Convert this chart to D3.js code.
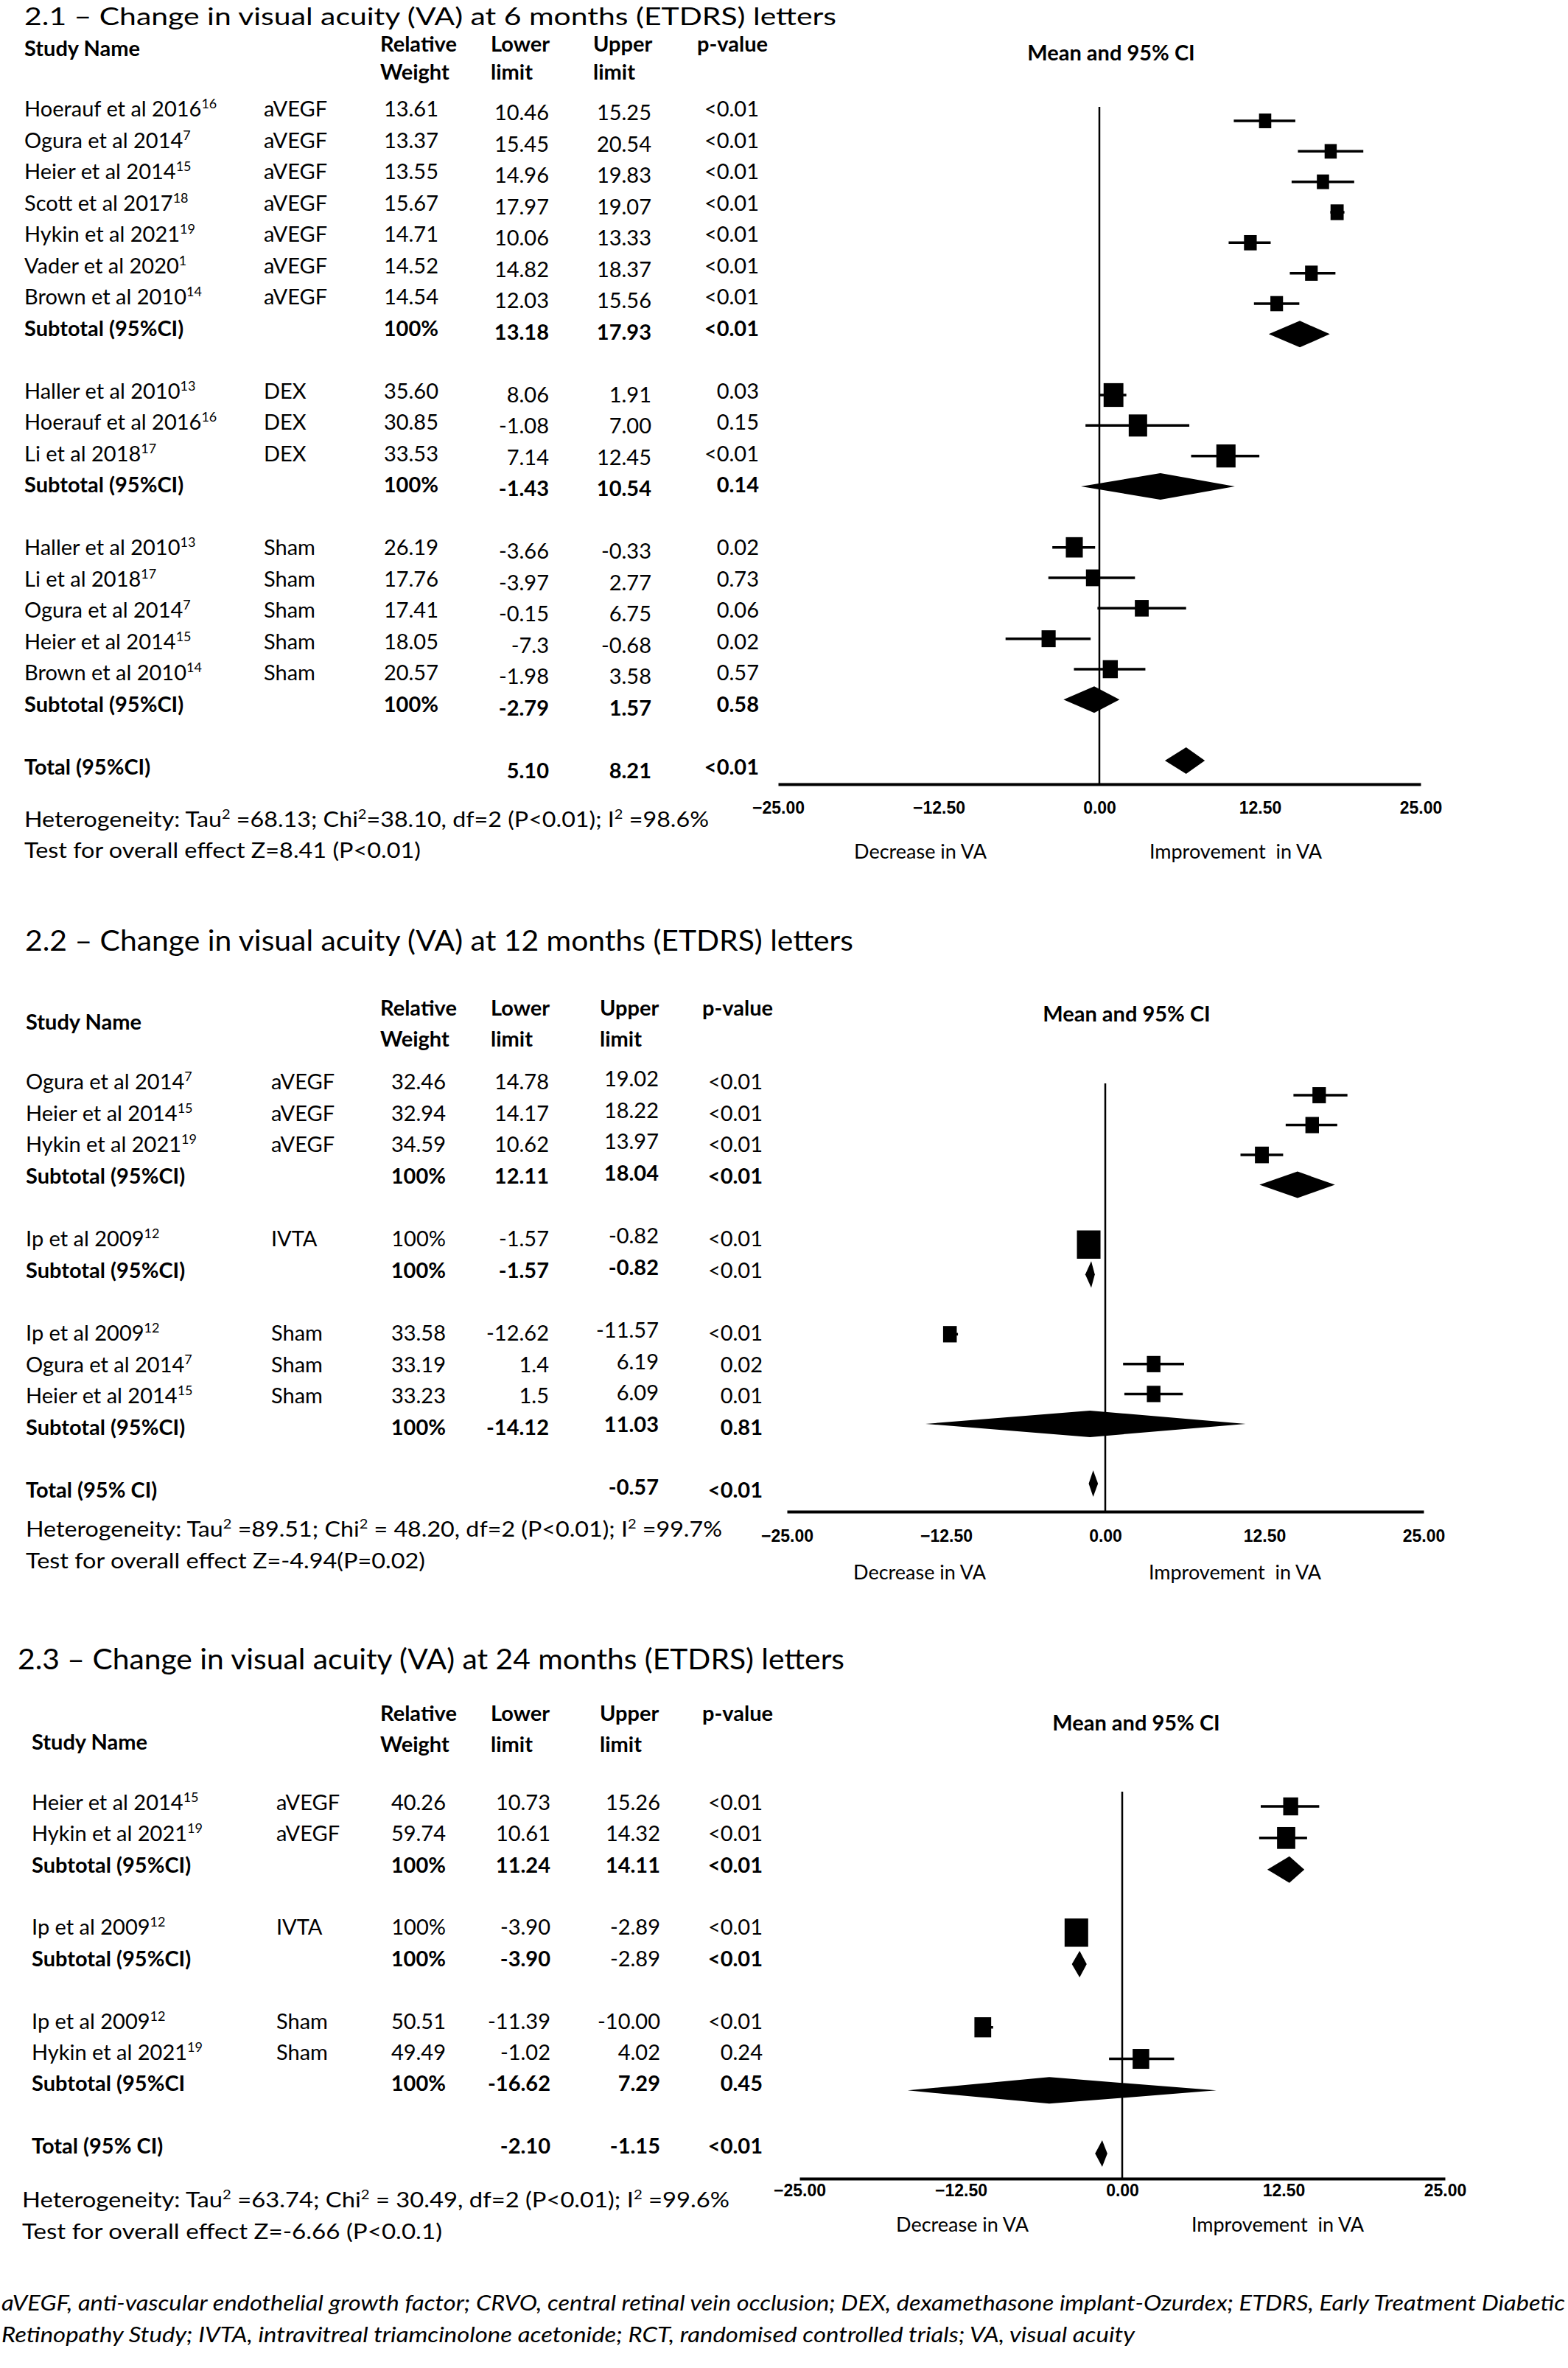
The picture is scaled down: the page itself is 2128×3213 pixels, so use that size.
<!DOCTYPE html>
<html>
<head>
<meta charset="utf-8">
<script src="https://cdn.jsdelivr.net/npm/d3@7"></script>
<style>
  body { margin: 0; background: #fff; }
  text { font-family: Lato, "Open Sans", sans-serif; fill: #000; }
</style>
</head>
<body>
<svg id="chart"></svg>
<script>
// ---- panel 2.1 : 6 months ----
var p1Row    = [0, 1, 2, 3, 4, 5, 6, 7, 9, 10, 11, 12, 14, 15, 16, 17, 18, 19, 21];
var p1Name   = ['Hoerauf et al 2016', 'Ogura et al 2014', 'Heier et al 2014', 'Scott et al 2017', 'Hykin et al 2021', 'Vader et al 2020', 'Brown et al 2010', 'Subtotal (95%CI)',
                'Haller et al 2010', 'Hoerauf et al 2016', 'Li et al 2018', 'Subtotal (95%CI)',
                'Haller et al 2010', 'Li et al 2018', 'Ogura et al 2014', 'Heier et al 2014', 'Brown et al 2010', 'Subtotal (95%CI)', 'Total (95%CI)'];
var p1Ref    = ['16', '7', '15', '18', '19', '1', '14', '', '13', '16', '17', '', '13', '17', '7', '15', '14', '', ''];
var p1Treat  = ['aVEGF', 'aVEGF', 'aVEGF', 'aVEGF', 'aVEGF', 'aVEGF', 'aVEGF', '', 'DEX', 'DEX', 'DEX', '', 'Sham', 'Sham', 'Sham', 'Sham', 'Sham', '', ''];
var p1Weight = ['13.61', '13.37', '13.55', '15.67', '14.71', '14.52', '14.54', '100%', '35.60', '30.85', '33.53', '100%', '26.19', '17.76', '17.41', '18.05', '20.57', '100%', ''];
var p1Lower  = ['10.46', '15.45', '14.96', '17.97', '10.06', '14.82', '12.03', '13.18', '8.06', '-1.08', '7.14', '-1.43', '-3.66', '-3.97', '-0.15', '-7.3', '-1.98', '-2.79', '5.10'];
var p1Upper  = ['15.25', '20.54', '19.83', '19.07', '13.33', '18.37', '15.56', '17.93', '1.91', '7.00', '12.45', '10.54', '-0.33', '2.77', '6.75', '-0.68', '3.58', '1.57', '8.21'];
var p1P      = ['<0.01', '<0.01', '<0.01', '<0.01', '<0.01', '<0.01', '<0.01', '<0.01', '0.03', '0.15', '<0.01', '0.14', '0.02', '0.73', '0.06', '0.02', '0.57', '0.58', '<0.01'];
var p1Bold   = ['nnnnn', 'nnnnn', 'nnnnn', 'nnnnn', 'nnnnn', 'nnnnn', 'nnnnn', 'bbbbb', 'nnnnn', 'nnnnn', 'nnnnn', 'bbbbb', 'nnnnn', 'nnnnn', 'nnnnn', 'nnnnn', 'nnnnn', 'bbbbb', 'bbbbb'];
var p1Kind   = ['s', 's', 's', 's', 's', 's', 's', 'd', 's', 's', 's', 'd', 's', 's', 's', 's', 's', 'd', 'd'];
// plotted estimate and interval
var p1Est    = [12.9, 18.0, 17.4, 18.5, 11.75, 16.5, 13.8, 15.6, 1.1, 3.0, 9.85, 4.75, -1.95, -0.5, 3.3, -3.95, 0.85, -0.4, 6.75];
var p1Lo     = [10.46, 15.45, 14.96, 17.97, 10.06, 14.82, 12.03, 13.18, 0.0, -1.08, 7.14, -1.43, -3.66, -3.97, -0.15, -7.3, -1.98, -2.79, 5.10];
var p1Hi     = [15.25, 20.54, 19.83, 19.07, 13.33, 18.37, 15.56, 17.93, 2.1, 7.00, 12.45, 10.54, -0.33, 2.77, 6.75, -0.68, 3.58, 1.57, 8.21];

// ---- panel 2.2 : 12 months ----
var p2Row    = [0, 1, 2, 3, 5, 6, 8, 9, 10, 11, 13];
var p2Name   = ['Ogura et al 2014', 'Heier et al 2014', 'Hykin et al 2021', 'Subtotal (95%CI)', 'Ip et al 2009', 'Subtotal (95%CI)',
                'Ip et al 2009', 'Ogura et al 2014', 'Heier et al 2014', 'Subtotal (95%CI)', 'Total (95% CI)'];
var p2Ref    = ['7', '15', '19', '', '12', '', '12', '7', '15', '', ''];
var p2Treat  = ['aVEGF', 'aVEGF', 'aVEGF', '', 'IVTA', '', 'Sham', 'Sham', 'Sham', '', ''];
var p2Weight = ['32.46', '32.94', '34.59', '100%', '100%', '100%', '33.58', '33.19', '33.23', '100%', ''];
var p2Lower  = ['14.78', '14.17', '10.62', '12.11', '-1.57', '-1.57', '-12.62', '1.4', '1.5', '-14.12', ''];
var p2Upper  = ['19.02', '18.22', '13.97', '18.04', '-0.82', '-0.82', '-11.57', '6.19', '6.09', '11.03', '-0.57'];
var p2P      = ['<0.01', '<0.01', '<0.01', '<0.01', '<0.01', '<0.01', '<0.01', '0.02', '0.01', '0.81', '<0.01'];
var p2Bold   = ['nnnnn', 'nnnnn', 'nnnnn', 'bbbbb', 'nnnnn', 'bbbbn', 'nnnnn', 'nnnnn', 'nnnnn', 'bbbbb', 'bbbbb'];
var p2Kind   = ['s', 's', 's', 'd', 's', 'd', 's', 's', 's', 'd', 'd'];
var p2Est    = [16.8, 16.25, 12.3, 15.1, -1.3, -1.1, -12.2, 3.8, 3.8, -1.2, -0.95];
var p2Lo     = [14.78, 14.17, 10.62, 12.11, -1.57, -1.57, -12.62, 1.4, 1.5, -14.12, -1.3];
var p2Hi     = [19.02, 18.22, 13.97, 18.04, -0.82, -0.82, -11.57, 6.19, 6.09, 11.03, -0.57];

// ---- panel 2.3 : 24 months ----
var p3Row    = [0, 1, 2, 4, 5, 7, 8, 9, 11];
var p3Name   = ['Heier et al 2014', 'Hykin et al 2021', 'Subtotal (95%CI)', 'Ip et al 2009', 'Subtotal (95%CI)',
                'Ip et al 2009', 'Hykin et al 2021', 'Subtotal (95%CI', 'Total (95% CI)'];
var p3Ref    = ['15', '19', '', '12', '', '12', '19', '', ''];
var p3Treat  = ['aVEGF', 'aVEGF', '', 'IVTA', '', 'Sham', 'Sham', '', ''];
var p3Weight = ['40.26', '59.74', '100%', '100%', '100%', '50.51', '49.49', '100%', ''];
var p3Lower  = ['10.73', '10.61', '11.24', '-3.90', '-3.90', '-11.39', '-1.02', '-16.62', '-2.10'];
var p3Upper  = ['15.26', '14.32', '14.11', '-2.89', '-2.89', '-10.00', '4.02', '7.29', '-1.15'];
var p3P      = ['<0.01', '<0.01', '<0.01', '<0.01', '<0.01', '<0.01', '0.24', '0.45', '<0.01'];
var p3Bold   = ['nnnnn', 'nnnnn', 'bbbbb', 'nnnnn', 'bbbnb', 'nnnnn', 'nnnnn', 'bbbbb', 'bbbbb'];
var p3Kind   = ['s', 's', 'd', 's', 'd', 's', 's', 'd', 'd'];
var p3Est    = [13.05, 12.7, 12.95, -3.55, -3.3, -10.8, 1.45, -5.65, -1.55];
var p3Lo     = [10.73, 10.61, 11.24, -3.90, -3.90, -11.39, -1.02, -16.62, -2.10];
var p3Hi     = [15.26, 14.32, 14.11, -2.89, -2.75, -10.00, 4.02, 7.29, -1.15];

var xTicks = [-25, -12.5, 0, 12.5, 25];

var titles = ['2.1 \u2013 Change in visual acuity (VA) at 6 months (ETDRS) letters',
              '2.2 \u2013 Change in visual acuity (VA) at 12 months (ETDRS) letters',
              '2.3 \u2013 Change in visual acuity (VA) at 24 months (ETDRS) letters'];
// heterogeneity line split as [text, superscript, text, ...]
var hetParts = [
  ['Heterogeneity: Tau', '2', ' =68.13; Chi', '2', '=38.10, df=2 (P<0.01); I', '2', ' =98.6%'],
  ['Heterogeneity: Tau', '2', ' =89.51; Chi', '2', ' = 48.20, df=2 (P<0.01); I', '2', ' =99.7%'],
  ['Heterogeneity: Tau', '2', ' =63.74; Chi', '2', ' = 30.49, df=2 (P<0.01); I', '2', ' =99.6%']];
var testLines = ['Test for overall effect Z=8.41 (P<0.01)',
                 'Test for overall effect Z=-4.94(P=0.02)',
                 'Test for overall effect Z=-6.66 (P<0.0.1)'];
var footLines = ['aVEGF, anti-vascular endothelial growth factor; CRVO, central retinal vein occlusion; DEX, dexamethasone implant-Ozurdex; ETDRS, Early Treatment Diabetic',
                 'Retinopathy Study; IVTA, intravitreal triamcinolone acetonide; RCT, randomised controlled trials; VA, visual acuity'];

var W = 2128, H = 3213;
var svg = d3.select('#chart').attr('width', W).attr('height', H);
svg.append('rect').attr('width', W).attr('height', H).attr('fill', '#fff');

var FS = 29; // table font size

function drawPanel(idx, d, L) {
  var g = svg.append('g');

  g.append('text')
    .attr('x', L.titleX).attr('y', L.titleY)
    .attr('font-size', L.titleFS)
    .attr('textLength', L.titleW).attr('lengthAdjust', 'spacingAndGlyphs')
    .text(titles[idx]);

  // column headers
  var hdr = g.append('g').attr('font-size', FS).attr('font-weight', 'bold');
  hdr.append('text').attr('x', L.nameX).attr('y', L.studyY).text('Study Name');
  var h1 = ['Relative', 'Lower', 'Upper', 'p-value'];
  var h2 = ['Weight', 'limit', 'limit', ''];
  h1.forEach(function (t, i) {
    hdr.append('text').attr('x', L.hdrX[i]).attr('y', L.hdrY1).text(t);
    if (h2[i]) hdr.append('text').attr('x', L.hdrX[i]).attr('y', L.hdrY2).text(h2[i]);
  });
  hdr.append('text').attr('x', L.meanX).attr('y', L.meanY)
    .attr('text-anchor', 'middle').text('Mean and 95% CI');

  var y = d3.scaleLinear().domain(L.rowDom).range(L.rowRange);     // marks
  var yt = d3.scaleLinear().domain(L.rowDom).range(L.textRange);   // table baselines
  var x = d3.scaleLinear().domain([-25, 25]).range(L.xRange);
  var size = d3.scaleSqrt().domain([0, 100]).range([0, L.sizeMax]);

  var rows = d.row.map(function (r, i) {
    return {
      y: y(r), ty: yt(r), name: d.name[i], ref: d.ref[i], treat: d.treat[i],
      cols: [d.weight[i], d.lower[i], d.upper[i], d.p[i]],
      bold: d.bold[i], kind: d.kind[i], est: d.est[i], lo: d.lo[i], hi: d.hi[i],
      w: parseFloat(d.weight[i])
    };
  });

  // table text
  var tbl = g.append('g').attr('font-size', FS);
  rows.forEach(function (r) {
    var t = tbl.append('text')
      .attr('x', L.nameX).attr('y', r.ty)
      .attr('font-weight', r.bold[0] === 'b' ? 'bold' : 'normal');
    t.append('tspan').text(r.name);
    if (r.ref) {
      t.append('tspan').attr('font-size', 18).attr('dy', -11).text(r.ref);
    }
    if (r.treat) {
      tbl.append('text').attr('x', L.treatX).attr('y', r.ty).text(r.treat);
    }
    r.cols.forEach(function (c, j) {
      if (!c) return;
      tbl.append('text')
        .attr('x', L.colR[j]).attr('y', r.ty + L.colDy[j])
        .attr('text-anchor', 'end')
        .attr('font-weight', r.bold[j + 1] === 'b' ? 'bold' : 'normal')
        .text(c);
    });
  });

  // zero line
  g.append('line')
    .attr('x1', x(0)).attr('x2', x(0))
    .attr('y1', L.vTop).attr('y2', L.axisY)
    .attr('stroke', '#000').attr('stroke-width', 2.5);

  var studies = rows.filter(function (r) { return r.kind === 's'; });
  var diamonds = rows.filter(function (r) { return r.kind === 'd'; });

  g.selectAll('.whisker').data(studies).enter().append('line')
    .attr('x1', function (r) { return x(r.lo); })
    .attr('x2', function (r) { return x(r.hi); })
    .attr('y1', function (r) { return r.y; })
    .attr('y2', function (r) { return r.y; })
    .attr('stroke', '#000').attr('stroke-width', 3.5);

  g.selectAll('.box').data(studies).enter().append('rect')
    .attr('x', function (r) { return x(r.est) - size(r.w) / 2; })
    .attr('y', function (r) { return r.y - size(r.w) * 0.6; })
    .attr('width', function (r) { return size(r.w); })
    .attr('height', function (r) { return size(r.w) * 1.2; })
    .attr('fill', '#000');

  var dh = 18;
  g.selectAll('.diamond').data(diamonds).enter().append('path')
    .attr('d', function (r) {
      return 'M' + x(r.lo) + ',' + r.y +
             'L' + x(r.est) + ',' + (r.y - dh) +
             'L' + x(r.hi) + ',' + r.y +
             'L' + x(r.est) + ',' + (r.y + dh) + 'Z';
    })
    .attr('fill', '#000');

  // x axis
  var axis = d3.axisBottom(x)
    .tickValues(xTicks)
    .tickSize(0)
    .tickSizeOuter(0)
    .tickPadding(L.tickPad)
    .tickFormat(d3.format('.2f'));
  var ax = g.append('g').attr('transform', 'translate(0,' + L.axisY + ')').call(axis);
  ax.select('.domain').attr('stroke', '#000').attr('stroke-width', 4);
  ax.selectAll('text')
    .style('font-family', '"Liberation Sans", Arial, sans-serif')
    .attr('font-size', 23).attr('font-weight', 'bold').attr('fill', '#000');

  g.append('text').attr('x', L.decX).attr('y', L.dirY).attr('font-size', 27)
    .attr('text-anchor', 'middle').text('Decrease in VA');
  g.append('text').attr('x', L.impX).attr('y', L.dirY).attr('font-size', 27)
    .attr('text-anchor', 'middle').attr('xml:space', 'preserve').text('Improvement  in VA');

  // heterogeneity and overall effect
  var het = g.append('text').attr('x', L.hetX).attr('y', L.hetY).attr('font-size', FS)
    .attr('textLength', L.hetW).attr('lengthAdjust', 'spacingAndGlyphs')
    .attr('xml:space', 'preserve');
  hetParts[idx].forEach(function (s, k) {
    if (k % 2 === 1) {
      het.append('tspan').attr('font-size', 18).attr('dy', -11).text(s);
    } else {
      het.append('tspan').attr('dy', k === 0 ? 0 : 11).text(s);
    }
  });
  g.append('text').attr('x', L.hetX).attr('y', L.testY).attr('font-size', FS)
    .attr('textLength', L.testW).attr('lengthAdjust', 'spacingAndGlyphs')
    .text(testLines[idx]);
}

drawPanel(0, {row: p1Row, name: p1Name, ref: p1Ref, treat: p1Treat, weight: p1Weight, lower: p1Lower, upper: p1Upper,
              p: p1P, bold: p1Bold, kind: p1Kind, est: p1Est, lo: p1Lo, hi: p1Hi},
  {titleX: 33, titleY: 34, titleW: 1102, titleFS: 33,
   nameX: 33, treatX: 358, colR: [595, 745, 884, 1030], colDy: [0, 5, 5, 0],
   hdrX: [516, 666, 805, 946], hdrY1: 70, hdrY2: 108, studyY: 76,
   rowDom: [0, 21], rowRange: [164, 1032], textRange: [158, 1051],
   xRange: [1056, 1928], axisY: 1064, vTop: 145, tickPad: 24, sizeMax: 45,
   meanX: 1508, meanY: 82, decX: 1249, impX: 1677, dirY: 1165,
   hetX: 33, hetY: 1122, testY: 1164, hetW: 929, testW: 538});

drawPanel(1, {row: p2Row, name: p2Name, ref: p2Ref, treat: p2Treat, weight: p2Weight, lower: p2Lower, upper: p2Upper,
              p: p2P, bold: p2Bold, kind: p2Kind, est: p2Est, lo: p2Lo, hi: p2Hi},
  {titleX: 34, titleY: 1290, titleW: 1124, titleFS: 38,
   nameX: 35, treatX: 368, colR: [605, 745, 894, 1035], colDy: [0, 0, -4, 0],
   hdrX: [516, 666, 814, 953], hdrY1: 1378, hdrY2: 1420, studyY: 1397,
   rowDom: [0, 13], rowRange: [1486, 2013], textRange: [1478, 2032],
   xRange: [1068, 1932], axisY: 2051, vTop: 1470, tickPad: 25, sizeMax: 32,
   meanX: 1529, meanY: 1386, decX: 1248, impX: 1676, dirY: 2143,
   hetX: 35, hetY: 2085, testY: 2128, hetW: 945, testW: 542});

drawPanel(2, {row: p3Row, name: p3Name, ref: p3Ref, treat: p3Treat, weight: p3Weight, lower: p3Lower, upper: p3Upper,
              p: p3P, bold: p3Bold, kind: p3Kind, est: p3Est, lo: p3Lo, hi: p3Hi},
  {titleX: 24, titleY: 2265, titleW: 1122, titleFS: 38,
   nameX: 43, treatX: 375, colR: [605, 747, 896, 1035], colDy: [0, 0, 0, 0],
   hdrX: [516, 666, 814, 953], hdrY1: 2335, hdrY2: 2377, studyY: 2374,
   rowDom: [0, 11], rowRange: [2451, 2922], textRange: [2456, 2922],
   xRange: [1085, 1961], axisY: 2956, vTop: 2431, tickPad: 8, sizeMax: 32,
   meanX: 1542, meanY: 2348, decX: 1306, impX: 1734, dirY: 3028,
   hetX: 30, hetY: 2995, testY: 3038, hetW: 960, testW: 570});

// abbreviations
svg.append('text').attr('x', 2).attr('y', 3135).attr('font-size', 29).attr('font-style', 'italic')
  .attr('textLength', 2122).attr('lengthAdjust', 'spacingAndGlyphs').text(footLines[0]);
svg.append('text').attr('x', 2).attr('y', 3178).attr('font-size', 29).attr('font-style', 'italic')
  .attr('textLength', 1538).attr('lengthAdjust', 'spacingAndGlyphs').text(footLines[1]);
</script>
</body>
</html>
